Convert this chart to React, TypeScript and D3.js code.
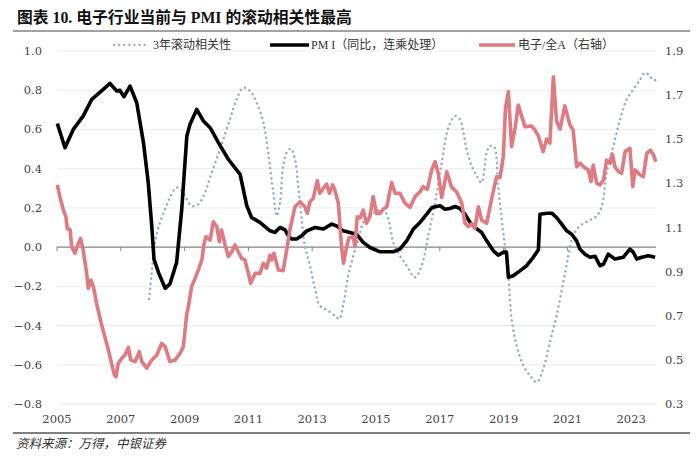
import React from "react";
import * as d3 from "d3";

const yearTicks = [2005, 2007, 2009, 2011, 2013, 2015, 2017, 2019, 2021, 2023];
const leftTicks = [-0.8, -0.6, -0.4, -0.2, 0.0, 0.2, 0.4, 0.6, 0.8, 1.0];
const rightTicks = [0.3, 0.5, 0.7, 0.9, 1.1, 1.3, 1.5, 1.7, 1.9];

const legendLabels = ["3年滚动相关性", "PM I（同比，连乘处理）", "电子/全A（右轴）"];

// 3年滚动相关性 (left axis)
const corrSeries: [number, number][] = [
  [2007.89, -0.265], [2007.97, -0.129], [2008.07, 0.024], [2008.23, 0.126], [2008.39, 0.193],
  [2008.54, 0.253], [2008.75, 0.304], [2008.91, 0.287], [2009.07, 0.244], [2009.22, 0.21],
  [2009.43, 0.219], [2009.64, 0.278], [2009.8, 0.355], [2010.11, 0.499], [2010.42, 0.651],
  [2010.63, 0.753], [2010.84, 0.813], [2011.05, 0.796], [2011.26, 0.736], [2011.47, 0.635],
  [2011.62, 0.482], [2011.78, 0.278], [2011.89, 0.159], [2011.99, 0.227], [2012.09, 0.414],
  [2012.2, 0.482], [2012.33, 0.502], [2012.46, 0.448], [2012.56, 0.312], [2012.67, 0.142],
  [2012.77, 0.007], [2012.93, -0.095], [2013.09, -0.214], [2013.24, -0.299], [2013.5, -0.324],
  [2013.71, -0.35], [2013.85, -0.366], [2013.97, -0.299], [2014.13, -0.146], [2014.29, -0.044],
  [2014.45, 0.041], [2014.56, 0.108], [2014.71, 0.159], [2014.97, 0.177], [2015.23, 0.193],
  [2015.39, 0.142], [2015.54, 0.024], [2015.75, -0.044], [2015.96, -0.095], [2016.22, -0.154],
  [2016.43, -0.095], [2016.64, 0.058], [2016.85, 0.227], [2017.06, 0.431], [2017.27, 0.609],
  [2017.48, 0.668], [2017.63, 0.651], [2017.74, 0.584], [2017.84, 0.499], [2018.0, 0.414],
  [2018.16, 0.363], [2018.31, 0.329], [2018.47, 0.482], [2018.57, 0.516], [2018.7, 0.512],
  [2018.83, 0.312], [2018.94, 0.142], [2019.04, 0.007], [2019.15, -0.146], [2019.25, -0.366],
  [2019.41, -0.502], [2019.62, -0.604], [2019.83, -0.655], [2020.04, -0.689], [2020.24, -0.621],
  [2020.45, -0.485], [2020.66, -0.35], [2020.87, -0.18], [2021.03, -0.044], [2021.18, 0.058],
  [2021.39, 0.108], [2021.66, 0.134], [2021.92, 0.159], [2022.08, 0.21], [2022.23, 0.38],
  [2022.44, 0.516], [2022.65, 0.651], [2022.86, 0.753], [2023.07, 0.804], [2023.28, 0.855],
  [2023.43, 0.889], [2023.54, 0.88], [2023.7, 0.851], [2023.8, 0.855],
];

// PMI（同比，连乘处理） (left axis)
const pmiSeries: [number, number][] = [
  [2005.01, 0.63], [2005.25, 0.507], [2005.51, 0.6], [2005.82, 0.668], [2006.09, 0.753],
  [2006.45, 0.804], [2006.66, 0.835], [2006.87, 0.796], [2006.97, 0.8], [2007.1, 0.767],
  [2007.29, 0.821], [2007.5, 0.736], [2007.71, 0.533], [2007.86, 0.329], [2007.97, 0.108],
  [2008.04, -0.061], [2008.18, -0.129], [2008.39, -0.21], [2008.54, -0.188], [2008.75, -0.078],
  [2008.91, 0.193], [2009.07, 0.566], [2009.17, 0.626], [2009.38, 0.702], [2009.59, 0.643],
  [2009.8, 0.609], [2010.06, 0.533], [2010.37, 0.448], [2010.74, 0.371], [2010.84, 0.295],
  [2010.95, 0.21], [2011.1, 0.151], [2011.36, 0.126], [2011.68, 0.083], [2011.83, 0.075],
  [2011.99, 0.1], [2012.15, 0.088], [2012.25, 0.058], [2012.36, 0.041], [2012.51, 0.041],
  [2012.67, 0.058], [2012.83, 0.083], [2013.09, 0.1], [2013.35, 0.092], [2013.61, 0.117],
  [2013.77, 0.108], [2013.97, 0.083], [2014.18, 0.075], [2014.39, 0.066], [2014.6, 0.024],
  [2014.81, -0.002], [2015.13, -0.024], [2015.54, -0.024], [2015.75, -0.01], [2015.96, 0.032],
  [2016.17, 0.092], [2016.38, 0.126], [2016.59, 0.168], [2016.75, 0.202], [2017.01, 0.211],
  [2017.16, 0.193], [2017.32, 0.197], [2017.48, 0.207], [2017.63, 0.197], [2017.79, 0.168],
  [2017.95, 0.126], [2018.1, 0.1], [2018.31, 0.075], [2018.47, 0.032], [2018.68, -0.019],
  [2018.83, -0.041], [2018.99, -0.027], [2019.09, -0.025], [2019.15, -0.154], [2019.3, -0.146],
  [2019.51, -0.121], [2019.72, -0.095], [2019.93, -0.052], [2020.09, -0.014], [2020.14, 0.168],
  [2020.35, 0.173], [2020.51, 0.173], [2020.66, 0.151], [2020.82, 0.117], [2020.98, 0.083],
  [2021.13, 0.066], [2021.29, 0.032], [2021.39, -0.01], [2021.55, -0.036], [2021.71, -0.052],
  [2021.87, -0.047], [2022.02, -0.095], [2022.13, -0.087], [2022.28, -0.036], [2022.49, -0.061],
  [2022.75, -0.052], [2022.96, -0.01], [2023.07, -0.027], [2023.17, -0.061], [2023.33, -0.052],
  [2023.54, -0.044], [2023.75, -0.052],
];

// 电子/全A (right axis)
const ratioSeries: [number, number][] = [
  [2005.01, 1.293], [2005.09, 1.24], [2005.2, 1.179], [2005.28, 1.149], [2005.32, 1.096],
  [2005.41, 1.089], [2005.46, 1.013], [2005.56, 0.983], [2005.67, 1.028], [2005.74, 1.051],
  [2005.82, 0.998], [2005.93, 0.892], [2005.98, 0.824], [2006.06, 0.862], [2006.14, 0.832],
  [2006.24, 0.756], [2006.4, 0.658], [2006.5, 0.605], [2006.61, 0.545], [2006.71, 0.484],
  [2006.8, 0.431], [2006.85, 0.424], [2006.92, 0.484], [2007.03, 0.507], [2007.13, 0.522],
  [2007.24, 0.557], [2007.31, 0.499], [2007.45, 0.492], [2007.58, 0.537], [2007.66, 0.492],
  [2007.81, 0.462], [2007.97, 0.499], [2008.13, 0.522], [2008.28, 0.575], [2008.39, 0.56],
  [2008.54, 0.492], [2008.7, 0.499], [2008.86, 0.53], [2008.96, 0.56], [2009.07, 0.711],
  [2009.12, 0.741], [2009.22, 0.832], [2009.33, 0.87], [2009.43, 0.907], [2009.54, 0.953],
  [2009.61, 1.028], [2009.67, 1.058], [2009.8, 1.043], [2009.9, 1.126], [2010.01, 1.104],
  [2010.09, 1.036], [2010.16, 1.089], [2010.27, 1.021], [2010.37, 0.968], [2010.48, 0.99],
  [2010.58, 1.021], [2010.68, 0.99], [2010.79, 0.96], [2010.89, 0.953], [2011.0, 0.892],
  [2011.07, 0.847], [2011.21, 0.892], [2011.36, 0.892], [2011.47, 0.938], [2011.57, 0.915],
  [2011.68, 0.975], [2011.73, 0.953], [2011.8, 0.983], [2011.94, 0.907], [2012.09, 0.904],
  [2012.2, 0.998], [2012.3, 1.089], [2012.46, 1.194], [2012.62, 1.217], [2012.77, 1.194],
  [2012.85, 1.164], [2012.93, 1.217], [2013.03, 1.232], [2013.16, 1.312], [2013.24, 1.255],
  [2013.35, 1.278], [2013.45, 1.297], [2013.54, 1.255], [2013.64, 1.293], [2013.71, 1.27],
  [2013.82, 1.21], [2013.92, 1.013], [2013.98, 0.938], [2014.08, 1.013], [2014.15, 1.052],
  [2014.29, 1.058], [2014.34, 1.013], [2014.41, 1.149], [2014.5, 1.143], [2014.6, 1.179],
  [2014.7, 1.119], [2014.81, 1.149], [2014.91, 1.24], [2015.02, 1.164], [2015.13, 1.164],
  [2015.23, 1.184], [2015.34, 1.194], [2015.49, 1.304], [2015.6, 1.255], [2015.75, 1.255],
  [2015.91, 1.21], [2016.07, 1.191], [2016.22, 1.24], [2016.38, 1.262], [2016.48, 1.285],
  [2016.61, 1.274], [2016.75, 1.361], [2016.85, 1.398], [2016.95, 1.346], [2017.06, 1.236],
  [2017.22, 1.353], [2017.37, 1.283], [2017.53, 1.261], [2017.69, 1.21], [2017.79, 1.119],
  [2017.89, 1.104], [2018.0, 1.116], [2018.1, 1.096], [2018.21, 1.194], [2018.31, 1.134],
  [2018.47, 1.119], [2018.63, 1.234], [2018.78, 1.33], [2018.89, 1.327], [2018.99, 1.42],
  [2019.06, 1.642], [2019.15, 1.716], [2019.25, 1.466], [2019.36, 1.551], [2019.46, 1.655],
  [2019.57, 1.602], [2019.67, 1.557], [2019.88, 1.56], [2019.98, 1.542], [2020.09, 1.515],
  [2020.24, 1.444], [2020.35, 1.501], [2020.45, 1.482], [2020.56, 1.783], [2020.66, 1.583],
  [2020.77, 1.546], [2020.92, 1.651], [2021.08, 1.565], [2021.18, 1.542], [2021.29, 1.376],
  [2021.39, 1.392], [2021.55, 1.37], [2021.66, 1.361], [2021.74, 1.308], [2021.81, 1.383],
  [2021.92, 1.3], [2022.02, 1.293], [2022.13, 1.315], [2022.23, 1.406], [2022.34, 1.391],
  [2022.41, 1.433], [2022.49, 1.376], [2022.6, 1.353], [2022.7, 1.346], [2022.81, 1.444],
  [2022.96, 1.459], [2023.05, 1.285], [2023.12, 1.361], [2023.28, 1.338], [2023.38, 1.33],
  [2023.49, 1.436], [2023.6, 1.451], [2023.7, 1.429], [2023.77, 1.398],
];

const SERIF = "'Liberation Serif', 'Noto Sans CJK SC', serif";
const NUM = "'DejaVu Serif', 'Liberation Serif', serif";

export default function App() {
  const W = 700;
  const H = 465;
  const plotLeft = 57;
  const plotRight = 656;
  const x = d3.scaleLinear().domain([2005, 2023]).range([57, 631.2]);
  const yL = d3.scaleLinear().domain([-0.8, 1.0]).range([404, 51]);
  const yR = d3.scaleLinear().domain([0.3, 1.9]).range([404, 51]);

  const lineL = d3
    .line<[number, number]>()
    .x((d) => x(d[0]))
    .y((d) => yL(d[1]));
  const lineCorr = d3
    .line<[number, number]>()
    .x((d) => x(d[0]))
    .y((d) => yL(d[1]))
    .curve(d3.curveCatmullRom);
  const lineR = d3
    .line<[number, number]>()
    .x((d) => x(d[0]))
    .y((d) => yR(d[1]));

  const pink = "#e07a82";
  const dotColor = "#9aacc3";
  const y0 = yL(0);
  const legendY = 45;

  return (
    <svg
      width={W}
      height={H}
      viewBox={`0 0 ${W} ${H}`}
      style={{ position: "absolute", left: 0, top: 0, background: "#fff" }}
    >
      <rect x={0} y={0} width={W} height={H} fill="#fff" />
      {/* title */}
      <text x={17} y={23} fontFamily={SERIF} fontWeight="bold" fontSize={15.8} fill="#111">
        图表 10. 电子行业当前与 PMI 的滚动相关性最高
      </text>
      <line x1={13} x2={690} y1={31} y2={31} stroke="#444" strokeWidth={1.2} />

      {/* gridlines */}
      {leftTicks.map((t) => (
        <line
          key={"g" + t}
          x1={plotLeft}
          x2={plotRight}
          y1={yL(t)}
          y2={yL(t)}
          stroke="#ececec"
          strokeWidth={1}
        />
      ))}

      {/* left labels */}
      {leftTicks.map((t) => (
        <text
          key={"l" + t}
          x={42}
          y={yL(t)}
          dy="0.35em"
          textAnchor="end"
          fontFamily={NUM}
          fontSize={11.5}
          fill="#444"
        >
          {t < 0 ? "\u2212" + Math.abs(t).toFixed(1) : t.toFixed(1)}
        </text>
      ))}
      {/* right labels */}
      {rightTicks.map((t) => (
        <text
          key={"r" + t}
          x={665}
          y={yR(t)}
          dy="0.35em"
          textAnchor="start"
          fontFamily={NUM}
          fontSize={11.5}
          fill="#444"
        >
          {t.toFixed(1)}
        </text>
      ))}
      {/* x labels */}
      {yearTicks.map((t) => (
        <text
          key={"x" + t}
          x={x(t)}
          y={419}
          dy="0.35em"
          textAnchor="middle"
          fontFamily={NUM}
          fontSize={11.5}
          fill="#444"
        >
          {t}
        </text>
      ))}

      {/* zero axis */}
      <line x1={plotLeft} x2={plotRight} y1={y0} y2={y0} stroke="#888" strokeWidth={1.3} />
      {yearTicks.map((t) => (
        <line key={"t" + t} x1={x(t)} x2={x(t)} y1={y0} y2={y0 + 4} stroke="#888" strokeWidth={1} />
      ))}

      {/* series */}
      <path
        d={lineCorr(corrSeries) || ""}
        fill="none"
        stroke={dotColor}
        strokeWidth={2.5}
        strokeDasharray="0.1 5"
        strokeLinecap="round"
      />
      <path
        d={lineL(pmiSeries) || ""}
        fill="none"
        stroke="#000"
        strokeWidth={3.6}
        strokeLinejoin="round"
      />
      <path
        d={lineR(ratioSeries) || ""}
        fill="none"
        stroke={pink}
        strokeWidth={3.6}
        strokeLinejoin="round"
      />

      {/* legend */}
      <line
        x1={114}
        x2={148}
        y1={legendY}
        y2={legendY}
        stroke={dotColor}
        strokeWidth={2.3}
        strokeDasharray="0.1 5"
        strokeLinecap="round"
      />
      <text x={153} y={legendY} dy="0.35em" fontFamily={SERIF} fontSize={12} fill="#333">
        {legendLabels[0]}
      </text>
      <line x1={270} x2={309} y1={legendY} y2={legendY} stroke="#000" strokeWidth={3.6} />
      <text x={311} y={legendY} dy="0.35em" fontFamily={SERIF} fontSize={12} fill="#333">
        {legendLabels[1]}
      </text>
      <line x1={479} x2={515} y1={legendY} y2={legendY} stroke={pink} strokeWidth={3.6} />
      <text x={518} y={legendY} dy="0.35em" fontFamily={SERIF} fontSize={12} fill="#333">
        {legendLabels[2]}
      </text>

      {/* footer */}
      <line x1={13} x2={690} y1={433} y2={433} stroke="#555" strokeWidth={1.3} />
      <text
        x={16}
        y={444}
        dy="0.35em"
        fontFamily={SERIF}
        fontStyle="italic"
        fontSize={12.5}
        fill="#333"
      >
        资料来源：万得，中银证券
      </text>
    </svg>
  );
}
